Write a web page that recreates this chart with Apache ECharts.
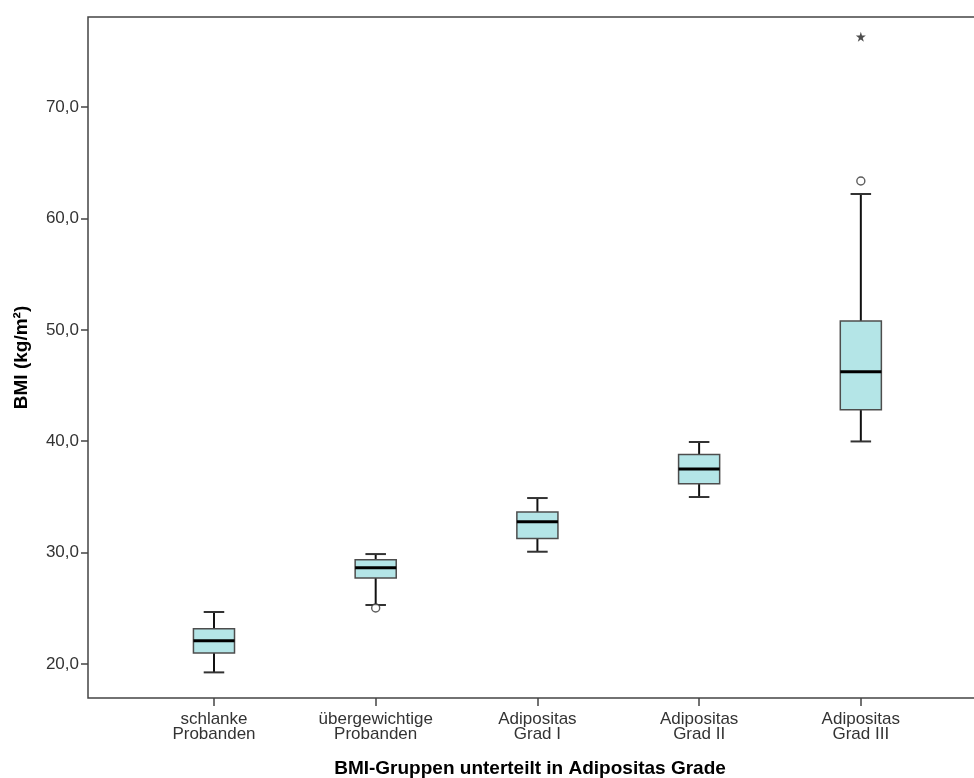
<!DOCTYPE html>
<html>
<head>
<meta charset="utf-8">
<script src="https://cdn.jsdelivr.net/npm/echarts@6/dist/echarts.min.js"></script>
<style>
  html, body { margin: 0; padding: 0; background: #fff; }
  #chart { width: 974px; height: 778px; }
</style>
</head>
<body>
<div id="chart"></div>
<script>
// BMI groups
const categories = [
  'schlanke\nProbanden',
  'übergewichtige\nProbanden',
  'Adipositas\nGrad I',
  'Adipositas\nGrad II',
  'Adipositas\nGrad III'
];
// Box plot statistics per group (BMI, kg/m²)
const whiskerLow  = [19.25, 25.30, 30.08, 34.99, 39.98];
const quartile1   = [20.99, 27.72, 31.27, 36.18, 42.83];
const medians     = [22.09, 28.64, 32.77, 37.50, 46.24];
const quartile3   = [23.17, 29.36, 33.64, 38.81, 50.79];
const whiskerHigh = [24.67, 29.87, 34.90, 39.93, 62.19];
// Outliers (circle) and extreme values (star): [group index, BMI]
const outliers = [[1, 25.03], [4, 63.36]];
const extremes = [[4, 76.31]];
// Y axis ticks
const yTicks = [20, 30, 40, 50, 60, 70];

const groupIdx = categories.map((_, i) => i);
const boxData = groupIdx.map(i => [i, whiskerLow[i], quartile1[i], medians[i], quartile3[i], whiskerHigh[i]]);

const BOX_WIDTH = 0.254;   // in category units
const FONT = '"Liberation Sans", Arial, sans-serif';

function renderBox(params, api) {
  const i = api.value(0);
  const lo = api.coord([i, api.value(1)]);
  const b1 = api.coord([i, api.value(2)]);
  const md = api.coord([i, api.value(3)]);
  const b3 = api.coord([i, api.value(4)]);
  const hi = api.coord([i, api.value(5)]);
  const w = api.size([BOX_WIDTH, 0])[0];
  const x = lo[0];
  const cap = w / 4;
  const wStyle = { stroke: '#111', lineWidth: 2 };
  return {
    type: 'group',
    children: [
      { type: 'line', shape: { x1: x, y1: b3[1], x2: x, y2: hi[1] }, style: wStyle },
      { type: 'line', shape: { x1: x, y1: b1[1], x2: x, y2: lo[1] }, style: wStyle },
      { type: 'line', shape: { x1: x - cap, y1: hi[1], x2: x + cap, y2: hi[1] }, style: { stroke: '#333', lineWidth: 2 } },
      { type: 'line', shape: { x1: x - cap, y1: lo[1], x2: x + cap, y2: lo[1] }, style: { stroke: '#333', lineWidth: 2 } },
      { type: 'rect', shape: { x: x - w / 2, y: b3[1], width: w, height: b1[1] - b3[1] },
        style: { fill: '#b4e5e7', stroke: '#4d4d4d', lineWidth: 1.5 } },
      { type: 'line', shape: { x1: x - w / 2, y1: md[1], x2: x + w / 2, y2: md[1] }, style: { stroke: '#000', lineWidth: 3 } }
    ]
  };
}

const chart = echarts.init(document.getElementById('chart'), null, { renderer: 'canvas' });
chart.setOption({
  animation: false,
  backgroundColor: '#fff',
  grid: {
    left: 88, top: 17, right: -12, bottom: 80,
    outerBoundsMode: 'none', containLabel: false,
    show: true, borderColor: '#444', borderWidth: 1.5, backgroundColor: 'transparent'
  },
  xAxis: {
    type: 'value',
    min: -0.779, max: 4.774,
    axisLine: { show: false, onZero: false },
    splitLine: { show: false },
    axisTick: { show: true, customValues: groupIdx, length: 8, lineStyle: { color: '#444', width: 1.5 } },
    axisLabel: {
      customValues: groupIdx,
      formatter: v => categories[Math.round(v)],
      color: '#333', fontFamily: FONT, fontSize: 17, lineHeight: 15, margin: 14
    },
    name: 'BMI-Gruppen unterteilt in Adipositas Grade',
    nameLocation: 'middle', nameGap: 61,
    nameTextStyle: { color: '#000', fontFamily: FONT, fontSize: 19, fontWeight: 'bold', padding: [0, 14, 0, 0] }
  },
  yAxis: {
    type: 'value',
    min: 16.95, max: 78.08,
    axisLine: { show: false, onZero: false },
    splitLine: { show: false },
    axisTick: { show: true, customValues: yTicks, length: 7, lineStyle: { color: '#444', width: 1.5 } },
    axisLabel: {
      customValues: yTicks,
      formatter: v => v.toFixed(1).replace('.', ','),
      color: '#333', fontFamily: FONT, fontSize: 17, margin: 9
    },
    name: 'BMI (kg/m²)',
    nameLocation: 'middle', nameGap: 57, nameRotate: 90,
    nameTextStyle: { color: '#000', fontFamily: FONT, fontSize: 19, fontWeight: 'bold' }
  },
  series: [
    {
      type: 'custom',
      renderItem: renderBox,
      data: boxData,
      encode: { x: 0, y: [1, 2, 3, 4, 5] },
      z: 2
    },
    {
      type: 'scatter',
      data: outliers,
      symbol: 'circle',
      symbolSize: 8,
      itemStyle: { color: '#fff', borderColor: '#333', borderWidth: 1.4 },
      z: 3
    },
    {
      type: 'scatter',
      data: extremes,
      symbol: 'path://M50,0 L61,35 L98,35 L68,57 L79,91 L50,70 L21,91 L32,57 L2,35 L39,35 Z',
      symbolSize: 10,
      itemStyle: { color: '#222' },
      z: 3
    }
  ]
});
</script>
</body>
</html>
